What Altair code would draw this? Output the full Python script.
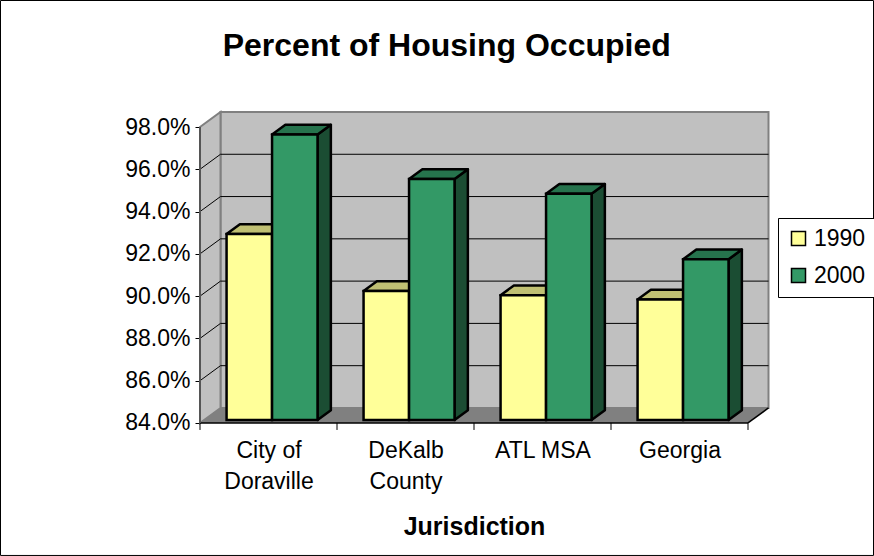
import json
import altair as alt
import pandas as pd

# ---- data ----
categories = ["City of\nDoraville", "DeKalb\nCounty", "ATL MSA", "Georgia"]
years = ["1990", "2000"]
occ_1990 = [92.8, 90.1, 89.9, 89.7]
occ_2000 = [97.5, 95.4, 94.7, 91.6]
y_ticks = [84, 86, 88, 90, 92, 94, 96, 98]

front_colors = ["#FFFF99", "#339966"]
top_colors = ["#C0C073", "#26734D"]
side_colors = ["#808050", "#1B4D33"]

# ---- layout constants (pixels) ----
PX_CAT = 137.0
PX_PCT = 21.14
DEPTH_X_PX = 20.5
DEPTH_Y_PX = 15.0
Y_MIN, Y_MAX = 84.0, 98.0
N = len(categories)
DX = DEPTH_X_PX / PX_CAT
DY = DEPTH_Y_PX / PX_PCT
W = N * PX_CAT + DEPTH_X_PX
H = (Y_MAX - Y_MIN) * PX_PCT + DEPTH_Y_PX
BAR_START = 0.164
BAR_W = 0.332
FRONT = 0.2
BAR_D = 0.65

xs = alt.Scale(domain=[0, N + DX], nice=False, zero=False)
ys = alt.Scale(domain=[Y_MIN, Y_MAX + DY], nice=False, zero=False)

# ---- build tables ----
series = [occ_1990, occ_2000]
front_rows, side_rows, top_rows = [], [], []
for i in range(N):
    for s, yr in enumerate(years):
        v = series[s][i]
        bid = f"{i}-{yr}"
        x0 = i + BAR_START + s * BAR_W + FRONT * DX
        x1 = x0 + BAR_W
        yb = Y_MIN + FRONT * DY
        yt = v + FRONT * DY
        front_rows.append(dict(bar=bid, year=yr, x=x0, x2=x1, y=yb, y2=yt))
        side_rows += [
            dict(bar=bid, c=side_colors[s], x=x1, y=yt, y2=yb),
            dict(bar=bid, c=side_colors[s], x=x1 + BAR_D * DX, y=yt + BAR_D * DY, y2=yb + BAR_D * DY),
        ]
        top_rows += [
            dict(bar=bid, c=top_colors[s], y=yt, x=x0, x2=x1),
            dict(bar=bid, c=top_colors[s], y=yt + BAR_D * DY, x=x0 + BAR_D * DX, x2=x1 + BAR_D * DX),
        ]
front_df = pd.DataFrame(front_rows)
side_df = pd.DataFrame(side_rows)
top_df = pd.DataFrame(top_rows)

wall_df = pd.DataFrame([dict(x=DX, x2=N + DX, y=Y_MIN + DY, y2=Y_MAX + DY)])
sidewall_df = pd.DataFrame([dict(x=0, y=Y_MAX, y2=Y_MIN), dict(x=DX, y=Y_MAX + DY, y2=Y_MIN + DY)])
floor_df = pd.DataFrame([dict(y=Y_MIN, x=0, x2=N), dict(y=Y_MIN + DY, x=DX, x2=N + DX)])
grid_vals = [t for t in y_ticks if Y_MIN < t < Y_MAX]
back_grid = pd.DataFrame([dict(x=DX, x2=N + DX, y=t + DY) for t in grid_vals])
side_grid = pd.DataFrame([dict(x=0, x2=DX, y=t, y2=t + DY) for t in grid_vals])
edges = pd.DataFrame([
    dict(x=0, x2=N, y=Y_MIN, y2=Y_MIN),
    dict(x=N, x2=N + DX, y=Y_MIN, y2=Y_MIN + DY),
])
left_edge = pd.DataFrame([dict(x=0, y=Y_MIN, y2=Y_MAX)])
xticks_df = pd.DataFrame([dict(x=float(i), y=Y_MIN) for i in range(N + 1)])
frame_df = pd.DataFrame([dict(x=0, y=Y_MIN)])

label_expr = ""
for i, c in enumerate(categories):
    arr = json.dumps(c.split("\n"))
    if i < N - 1:
        label_expr += f"datum.value < {i + 1} ? {arr} : "
    else:
        label_expr += arr

x_axis = alt.Axis(values=[i + 0.5 for i in range(N)], labelExpr=label_expr, ticks=False, domain=False,
                  grid=False, labelFontSize=23, labelPadding=17, labelLineHeight=31, labelAngle=0,
                  labelColor="black", title="Jurisdiction", titleFontSize=25, titleFontWeight="bold",
                  titleColor="black", titleX=274, titleY=112, titleBaseline="alphabetic")
y_axis = alt.Axis(values=y_ticks, labelExpr="format(datum.value, '.1f') + '%'", tickSize=5, domain=False,
                  grid=False, labelFontSize=23, labelPadding=5, tickColor="black", labelColor="black",
                  title=None)


def X(f="x"):
    return alt.X(f"{f}:Q", scale=xs, axis=x_axis)


def Y(f="y"):
    return alt.Y(f"{f}:Q", scale=ys, axis=y_axis)


# outer chart-area frame (decoration)
frame = alt.Chart(frame_df).mark_rect(filled=False, stroke="black", strokeWidth=1).encode(
    x=alt.value(-199.5), x2=alt.value(W + 105), y=alt.value(-111.5), y2=alt.value(H + 132.5))

wall = alt.Chart(wall_df).mark_rect(fill="#C0C0C0", stroke="#808080", strokeWidth=2).encode(
    x=X(), x2="x2:Q", y=Y(), y2="y2:Q")

sidewall = alt.Chart(sidewall_df).mark_area(orient="vertical", fill="#C0C0C0", stroke="#808080",
                                            strokeWidth=2).encode(x=X(), y=Y(), y2="y2:Q")

floor = alt.Chart(floor_df).mark_area(orient="horizontal", fill="#808080").encode(
    y=Y(), x=X(), x2="x2:Q")

bgrid = alt.Chart(back_grid).mark_rule(color="black", strokeWidth=1).encode(
    x=X(), x2="x2:Q", y=Y())

sgrid = alt.Chart(side_grid).mark_rule(color="black", strokeWidth=1).encode(
    x=X(), x2="x2:Q", y=Y(), y2="y2:Q")

edge = alt.Chart(edges).mark_rule(color="black", strokeWidth=1.5).encode(
    x=X(), x2="x2:Q", y=Y(), y2="y2:Q")

ledge = alt.Chart(left_edge).mark_rule(color="#555555", strokeWidth=2).encode(
    x=X(), y=Y(), y2="y2:Q")

xticks = alt.Chart(xticks_df).mark_rule(color="black", strokeWidth=1).encode(
    x=X(), y=Y(), y2=alt.value(H + 7))

sides = alt.Chart(side_df).mark_area(orient="vertical", stroke="black", strokeWidth=2.5,
                                     strokeJoin="round").encode(
    x=X(), y=Y(), y2="y2:Q", fill=alt.Fill("c:N", scale=None), detail="bar:N")

tops = alt.Chart(top_df).mark_area(orient="horizontal", stroke="black", strokeWidth=2.5,
                                   strokeJoin="round").encode(
    y=Y(), x=X(), x2="x2:Q", fill=alt.Fill("c:N", scale=None), detail="bar:N")

fronts = alt.Chart(front_df).mark_rect(stroke="black", strokeWidth=2.5, opacity=1).encode(
    x=X(), x2="x2:Q", y=Y(), y2="y2:Q",
    color=alt.Color("year:N", scale=alt.Scale(domain=years, range=front_colors),
                    legend=alt.Legend(title=None, orient="none", legendX=578, legendY=106,
                                      fillColor="white", strokeColor="black", padding=9,
                                      symbolType="square", symbolSize=196, symbolStrokeColor="black",
                                      symbolStrokeWidth=1.5, symbolOpacity=1, labelFontSize=23,
                                      labelOffset=4, rowPadding=13, labelColor="black")))

chart = alt.layer(frame, wall, sidewall, floor, bgrid, sgrid, edge, ledge, xticks, sides, tops, fronts).properties(
    width=W, height=H,
    autosize=alt.AutoSizeParams(type="none"),
    padding={"left": 200, "top": 112, "right": 874 - 200 - W, "bottom": 556 - 112 - H},
    background="white",
    title=alt.Title("Percent of Housing Occupied", fontSize=32, fontWeight="bold", anchor="middle",
                    dx=-37.5, offset=-88, baseline="alphabetic", color="black"),
).configure(font="Liberation Sans").configure_view(stroke=None)

chart.save("out.html", embed_options={"renderer": "svg", "actions": False})
